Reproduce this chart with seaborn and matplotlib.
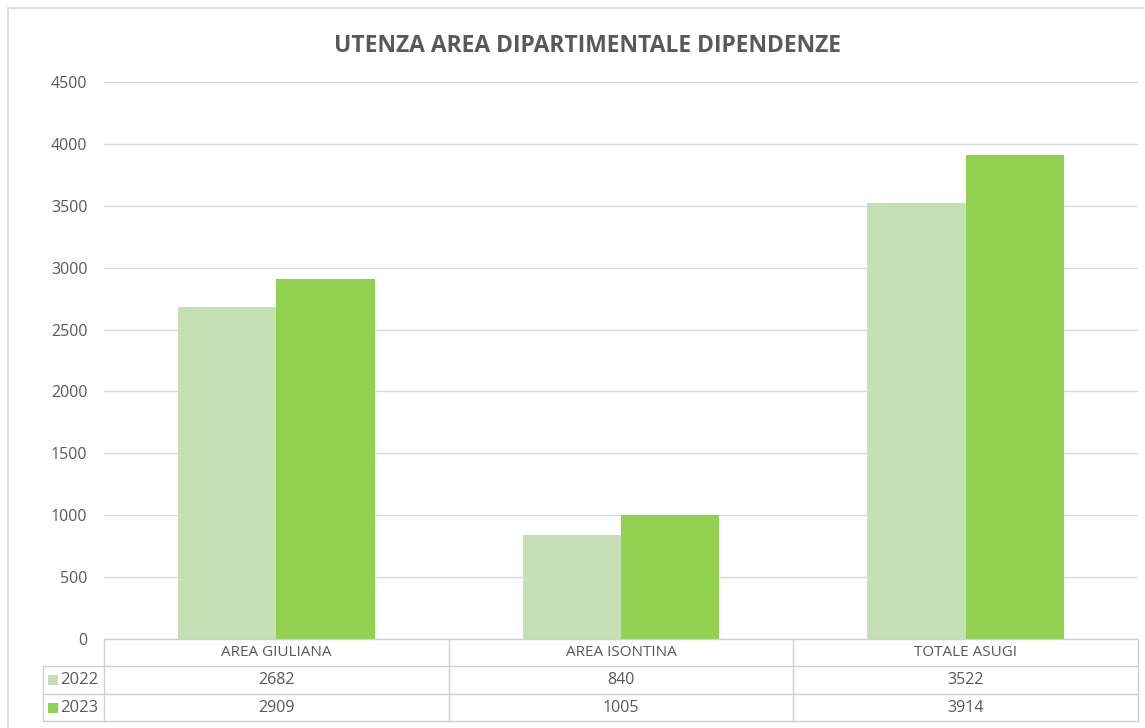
import pandas as pd
import seaborn as sns
import matplotlib.pyplot as plt
from matplotlib.lines import Line2D
from matplotlib.patches import Rectangle

categories = ["AREA GIULIANA", "AREA ISONTINA", "TOTALE ASUGI"]
years = ["2022", "2023"]
values_2022 = [2682, 840, 3522]
values_2023 = [2909, 1005, 3914]
colors = {"2022": "#c5e0b4", "2023": "#92d050"}
title = "UTENZA AREA DIPARTIMENTALE DIPENDENZE"

df = pd.DataFrame({
    "area": categories * 2,
    "anno": [years[0]] * 3 + [years[1]] * 3,
    "utenti": values_2022 + values_2023,
})

W, H = 1145, 728
sns.set_theme(style="white")
plt.rcParams["font.family"] = ["Open Sans", "DejaVu Sans"]
txt = "#595959"
grid = "#d9d9d9"

fig = plt.figure(figsize=(W / 100, H / 100), dpi=100)


def fx(px):
    return px / W


def fy(py):
    return 1 - py / H


left, right, y0, ytop = 104, 1138, 639, 82
ax = fig.add_axes([fx(left), fy(y0), fx(right - left), fy(ytop) - fy(y0)])
sns.barplot(data=df, x="area", y="utenti", hue="anno", palette=colors,
            width=0.57, gap=0, saturation=1, ax=ax, legend=False,
            edgecolor="none", linewidth=0)
ax.set_ylim(0, 4500)
ax.set_yticks(range(0, 4501, 500))
ax.set_xlim(-0.5, 2.5)
ax.set_xticks([])
ax.set_xlabel("")
ax.set_ylabel("")
ax.tick_params(axis="y", colors=txt, labelsize=11.5, length=0, pad=12)
for t in ax.get_yticklabels():
    t.set_color(txt)
ax.yaxis.grid(True, color=grid, linewidth=1)
ax.set_axisbelow(True)
for s in ax.spines.values():
    s.set_visible(False)

# chart frame
fig.add_artist(Line2D([fx(8), fx(8)], [fy(8), 0], color=grid, lw=1.2))
fig.add_artist(Line2D([fx(8), 1], [fy(8), fy(8)], color=grid, lw=1.2))

fig.text(fx(588), fy(46), title, ha="center", va="center",
         fontsize=16.5, fontweight="bold", color=txt)

# data table under the axis
tab_left, head_top, r1, r2, r3 = 43, 639, 666, 694, 721
col_w = (right - left) / len(categories)
lc = "#d0d0d0"
lines = [
    ([left, right], [head_top, head_top]),
    ([tab_left, right], [r1, r1]),
    ([tab_left, right], [r2, r2]),
    ([tab_left, right], [r3, r3]),
    ([tab_left, tab_left], [r1, r3]),
    ([right, right], [head_top, r3]),
]
for i in range(len(categories)):
    xx = left + i * col_w
    lines.append(([xx, xx], [head_top, r3]))
for xs, ys in lines:
    fig.add_artist(Line2D([fx(v) for v in xs], [fy(v) for v in ys],
                          color=lc, lw=1))

for i, cat in enumerate(categories):
    cx = fx(left + (i + 0.5) * col_w)
    fig.text(cx, fy((head_top + r1) / 2), cat, ha="center", va="center",
             fontsize=11, color=txt)
    fig.text(cx, fy((r1 + r2) / 2), str(values_2022[i]), ha="center",
             va="center", fontsize=11.5, color=txt)
    fig.text(cx, fy((r2 + r3) / 2), str(values_2023[i]), ha="center",
             va="center", fontsize=11.5, color=txt)

for yr, (ya, yb) in zip(years, [(r1, r2), (r2, r3)]):
    yc = (ya + yb) / 2
    fig.add_artist(Rectangle((fx(48), fy(yc + 5)), fx(10), fy(yc - 5) - fy(yc + 5),
                             color=colors[yr], lw=0))
    fig.text(fx(60), fy(yc), yr, ha="left", va="center", fontsize=12, color=txt)

fig.savefig("out.png", dpi=100)
